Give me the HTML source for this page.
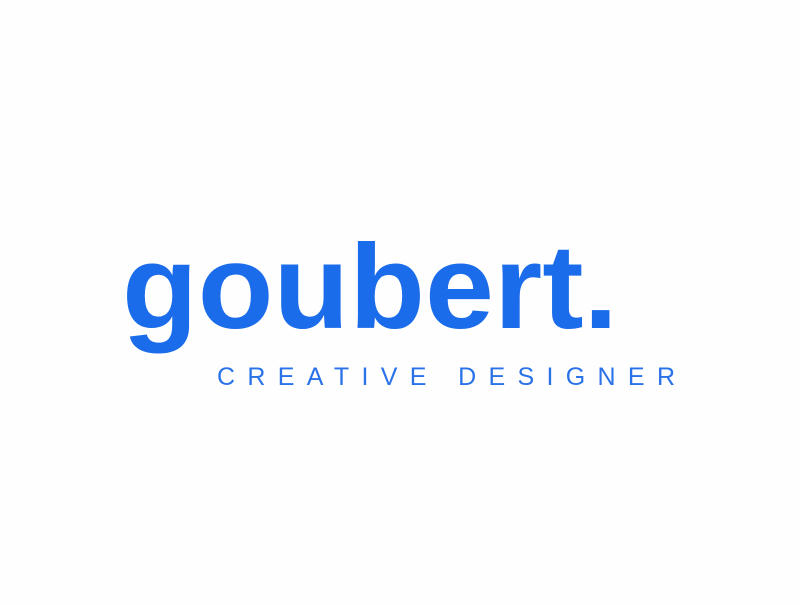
<!DOCTYPE html>
<html>
<head>
<meta charset="utf-8">
<style>
  html,body{margin:0;padding:0;background:#fefefe;}
  body{width:800px;height:600px;overflow:hidden;}
</style>
</head>
<body>
<svg width="800" height="600" viewBox="0 0 800 600">
  <rect width="800" height="600" fill="#fefefe"/>
  <text x="122" y="328" font-family="Liberation Sans, sans-serif" font-weight="bold" font-size="120" fill="#1b6cea" textLength="496" lengthAdjust="spacingAndGlyphs">goubert.</text>
  <text x="217" y="385" font-family="Liberation Sans, sans-serif" font-size="25" fill="#2a72e8" textLength="458" lengthAdjust="spacing">CREATIVE DESIGNER</text>
</svg>
</body>
</html>
